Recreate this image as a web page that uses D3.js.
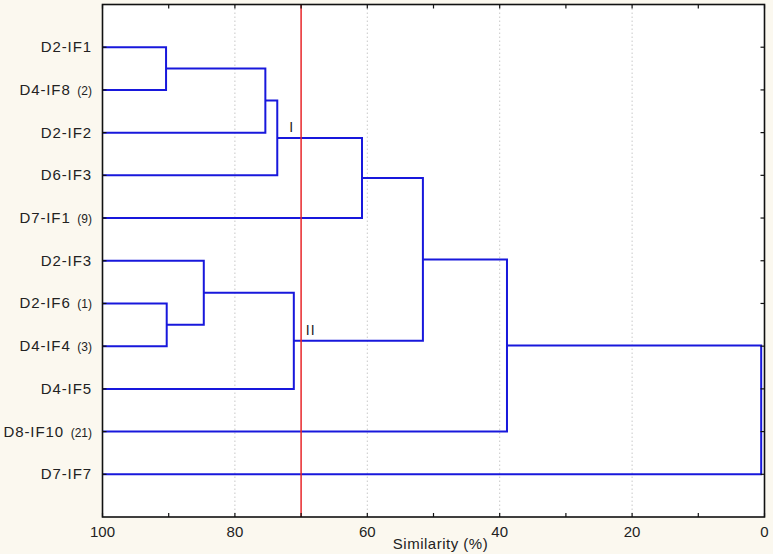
<!DOCTYPE html>
<html><head><meta charset="utf-8">
<script src="https://cdn.jsdelivr.net/npm/d3@7"></script>
<style>
html,body{margin:0;padding:0;background:#fbf8ef;}
svg{display:block;}
text{font-family:"Liberation Sans",Arial,sans-serif;fill:#222;}
</style></head>
<body>
<svg id="c" width="773" height="554"></svg>
<script>
// ---- data ----
const leaves = ["D2-IF1","D4-IF8","D2-IF2","D6-IF3","D7-IF1","D2-IF3","D2-IF6","D4-IF4","D4-IF5","D8-IF10","D7-IF7"];
const leafNotes = ["","(2)","","","(9)","","(1)","(3)","","(21)",""];
// linkage: ids 0..10 leaves, 11.. merges in order
const mergeA = [0, 11, 12, 13, 6, 15, 16, 14, 18, 19];
const mergeB = [1, 2, 3, 4, 7, 5, 8, 17, 9, 10];
const mergeSim = [90.4, 75.4, 73.6, 60.8, 90.3, 84.7, 71.1, 51.6, 38.9, 0.5];
const cutoff = 70;
const clusterLabels = ["I", "II"];
const clusterNodes = [13, 17];
const xTicks = [100, 80, 60, 40, 20, 0];
const xMinorTicks = [100, 90, 80, 70, 60, 50, 40, 30, 20, 10, 0];
const xTitle = "Similarity (%)";

// ---- layout ----
const L = 102.5, R = 764.5, T = 4.5, B = 517;
const svg = d3.select("#c");
const x = d3.scaleLinear().domain([100, 0]).range([L, R]);
const y = d3.scalePoint().domain(d3.range(leaves.length)).range([T, B]).padding(1);

svg.append("rect").attr("x", L).attr("y", T).attr("width", R - L).attr("height", B - T).attr("fill", "#fff");

// grid
svg.append("g").selectAll("line").data(xTicks.filter(d => d !== 100 && d !== 0)).join("line")
  .attr("x1", d => x(d)).attr("x2", d => x(d)).attr("y1", T).attr("y2", B)
  .attr("stroke", "#c8c8c8").attr("stroke-width", 1).attr("stroke-dasharray", "1.5,2.5");

// node positions
const nodeX = [], nodeY = [];
leaves.forEach((d, i) => { nodeX[i] = x(100); nodeY[i] = y(i); });
const n = leaves.length;
const g = svg.append("g").attr("fill", "none").attr("stroke", "#1818dc").attr("stroke-width", 2);
mergeSim.forEach((s, k) => {
  const a = mergeA[k], b = mergeB[k], id = n + k;
  const mx = x(s);
  nodeX[id] = mx; nodeY[id] = (nodeY[a] + nodeY[b]) / 2;
  const p = d3.path();
  p.moveTo(nodeX[a], nodeY[a]); p.lineTo(mx, nodeY[a]); p.lineTo(mx, nodeY[b]); p.lineTo(nodeX[b], nodeY[b]);
  g.append("path").attr("d", p.toString());
});
// cutoff line
svg.append("line").attr("x1", x(cutoff)).attr("x2", x(cutoff)).attr("y1", T).attr("y2", B)
  .attr("stroke", "#e8262a").attr("stroke-width", 1.5);

// cluster labels
svg.append("g").selectAll("text").data(clusterLabels).join("text")
  .attr("x", (d, i) => nodeX[clusterNodes[i]] + 12)
  .attr("y", (d, i) => nodeY[clusterNodes[i]] - 6)
  .attr("font-size", 14).attr("fill", "#333").attr("letter-spacing", 1).text(d => d);

// frame
svg.append("rect").attr("x", L).attr("y", T).attr("width", R - L).attr("height", B - T)
  .attr("fill", "none").attr("stroke", "#111").attr("stroke-width", 1.6);

// ticks (inward)
const tk = svg.append("g").attr("stroke", "#111").attr("stroke-width", 1.2);
xMinorTicks.forEach(d => {
  tk.append("line").attr("x1", x(d)).attr("x2", x(d)).attr("y1", B).attr("y2", B - 4);
  tk.append("line").attr("x1", x(d)).attr("x2", x(d)).attr("y1", T).attr("y2", T + 4);
});
leaves.forEach((d, i) => {
  tk.append("line").attr("x1", L).attr("x2", L + 4).attr("y1", y(i)).attr("y2", y(i));
  tk.append("line").attr("x1", R).attr("x2", R - 4).attr("y1", y(i)).attr("y2", y(i));
});

// x tick labels
svg.append("g").selectAll("text").data(xTicks).join("text")
  .attr("x", d => x(d)).attr("y", B + 20).attr("text-anchor", "middle")
  .attr("font-size", 15).text(d => d);

// x title
svg.append("text").attr("x", 440.5).attr("y", 548.5).attr("text-anchor", "middle")
  .attr("font-size", 15).attr("letter-spacing", 0.5).text(xTitle);

// leaf labels
const lab = svg.append("g").selectAll("text").data(leaves).join("text")
  .attr("x", 92).attr("y", (d, i) => y(i) + 5).attr("text-anchor", "end")
  .attr("font-size", 15);
lab.append("tspan").attr("letter-spacing", 0.9).text(d => d);
lab.append("tspan").attr("font-size", 12).attr("letter-spacing", 0)
  .text((d, i) => leafNotes[i] ? "\u00a0\u00a0" + leafNotes[i] : "");
</script>
</body></html>
